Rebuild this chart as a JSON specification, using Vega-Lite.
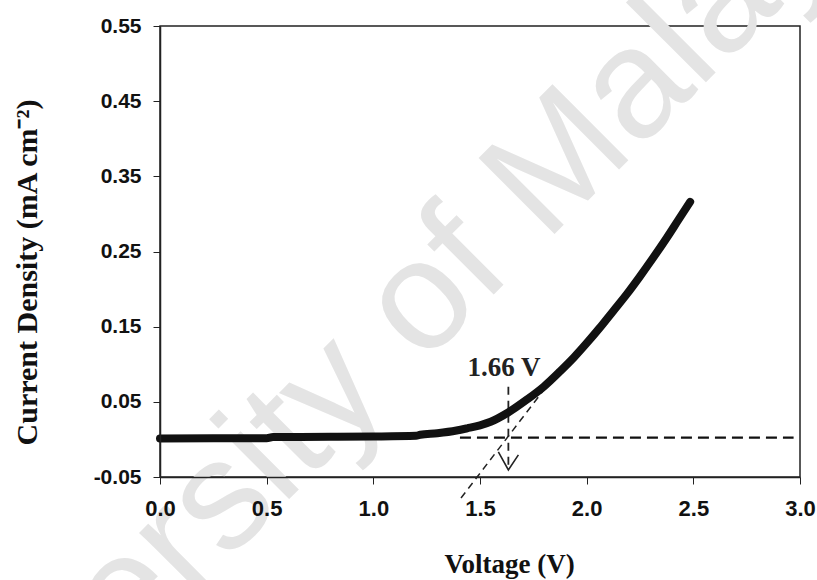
{
  "$schema": "https://vega.github.io/schema/vega-lite/v6.json",
  "width": 640,
  "height": 451,
  "autosize": {"type": "none"},
  "padding": {"left": 160, "top": 26, "right": 17, "bottom": 103},
  "background": "white",
  "config": {
    "view": {"stroke": "#222", "strokeWidth": 1.5},
    "axis": {"grid": false}
  },
  "datasets": {
    "curve": [
      {"v": 0.0, "j": 0.0012},
      {"v": 0.25, "j": 0.0014},
      {"v": 0.5, "j": 0.0016},
      {"v": 0.53, "j": 0.0032},
      {"v": 0.8, "j": 0.0034},
      {"v": 1.0, "j": 0.0038},
      {"v": 1.2, "j": 0.0048},
      {"v": 1.22, "j": 0.0062},
      {"v": 1.3, "j": 0.0082},
      {"v": 1.39, "j": 0.0118},
      {"v": 1.44, "j": 0.0148},
      {"v": 1.5, "j": 0.0188},
      {"v": 1.55, "j": 0.0235},
      {"v": 1.63, "j": 0.0355},
      {"v": 1.72, "j": 0.053},
      {"v": 1.8, "j": 0.0705},
      {"v": 1.875, "j": 0.0905},
      {"v": 1.94, "j": 0.109},
      {"v": 2.0, "j": 0.128},
      {"v": 2.06, "j": 0.148},
      {"v": 2.125, "j": 0.171},
      {"v": 2.19, "j": 0.194},
      {"v": 2.25, "j": 0.217},
      {"v": 2.31, "j": 0.241},
      {"v": 2.375, "j": 0.268},
      {"v": 2.43, "j": 0.292},
      {"v": 2.485, "j": 0.316}
    ],
    "guides": [
      {"kind": "baseline", "v": 1.406, "j": 0.0023, "v2": 2.97, "j2": 0.0023},
      {"kind": "tangent", "v": 1.411, "j": -0.078, "v2": 1.81, "j2": 0.07},
      {"kind": "drop", "v": 1.633, "j": 0.07, "v2": 1.633, "j2": -0.0405}
    ],
    "arrow": [
      {"v": 1.586, "j": -0.0165, "o": 1},
      {"v": 1.633, "j": -0.0407, "o": 2},
      {"v": 1.68, "j": -0.0205, "o": 3}
    ],
    "labels": [
      {"v": 1.613, "j": 0.095, "text": "1.66 V"}
    ],
    "watermark": [
      {"v": 0.99, "j": 0.118, "text": "University of Malaya"}
    ]
  },
  "layer": [
    {
      "data": {"name": "watermark"},
      "mark": {"type": "text", "font": "Liberation Sans", "fontSize": 156, "color": "#e4e4e4", "angle": -45, "align": "center", "baseline": "middle"},
      "encoding": {
        "x": {"field": "v", "type": "quantitative"},
        "y": {"field": "j", "type": "quantitative"},
        "text": {"field": "text"}
      }
    },
    {
      "data": {"name": "guides"},
      "transform": [{"filter": "datum.kind === 'baseline'"}],
      "mark": {"type": "rule", "color": "#111", "strokeWidth": 2.2, "strokeDash": [11, 6]},
      "encoding": {
        "x": {"field": "v", "type": "quantitative"},
        "y": {"field": "j", "type": "quantitative"},
        "x2": {"field": "v2"},
        "y2": {"field": "j2"}
      }
    },
    {
      "data": {"name": "guides"},
      "transform": [{"filter": "datum.kind === 'tangent'"}],
      "mark": {"type": "rule", "color": "#222", "strokeWidth": 1.5, "strokeDash": [7, 5]},
      "encoding": {
        "x": {"field": "v", "type": "quantitative"},
        "y": {"field": "j", "type": "quantitative"},
        "x2": {"field": "v2"},
        "y2": {"field": "j2"}
      }
    },
    {
      "data": {"name": "guides"},
      "transform": [{"filter": "datum.kind === 'drop'"}],
      "mark": {"type": "rule", "color": "#222", "strokeWidth": 1.8, "strokeDash": [8, 6]},
      "encoding": {
        "x": {"field": "v", "type": "quantitative"},
        "y": {"field": "j", "type": "quantitative"},
        "x2": {"field": "v2"},
        "y2": {"field": "j2"}
      }
    },
    {
      "data": {"name": "arrow"},
      "mark": {"type": "line", "color": "#222", "strokeWidth": 1.6},
      "encoding": {
        "x": {"field": "v", "type": "quantitative"},
        "y": {"field": "j", "type": "quantitative"},
        "order": {"field": "o"}
      }
    },
    {
      "data": {"name": "curve"},
      "mark": {"type": "line", "color": "#111", "strokeWidth": 8, "strokeCap": "round", "strokeJoin": "round", "interpolate": "monotone"},
      "encoding": {
        "x": {
          "field": "v", "type": "quantitative",
          "scale": {"domain": [0, 3], "nice": false, "zero": false},
          "axis": {
            "zindex": 2,
            "values": [0, 0.5, 1, 1.5, 2, 2.5, 3],
            "format": ".1f",
            "labelFont": "Liberation Sans", "labelFontWeight": "bold", "labelFontSize": 22, "labelColor": "#111",
            "labelPadding": 14, "tickSize": 7, "tickColor": "#222", "domainColor": "#222", "domainWidth": 1.5,
            "labelFlush": false,
            "title": "Voltage (V)",
            "titleFont": "Liberation Serif", "titleFontWeight": "bold", "titleFontSize": 27, "titleColor": "#111",
            "titleX": 349, "titleY": 95, "titleBaseline": "alphabetic"
          }
        },
        "y": {
          "field": "j", "type": "quantitative",
          "scale": {"domain": [-0.05, 0.55], "nice": false, "zero": false},
          "axis": {
            "zindex": 2,
            "values": [-0.05, 0.05, 0.15, 0.25, 0.35, 0.45, 0.55],
            "format": ".2f",
            "labelExpr": "replace(datum.label, '−', '-')",
            "labelFont": "Liberation Sans", "labelFontWeight": "bold", "labelFontSize": 21, "labelColor": "#111",
            "labelPadding": 12, "tickSize": 7, "tickColor": "#222", "domainColor": "#222", "domainWidth": 1.5,
            "labelFlush": false,
            "title": "Current Density (mA cm⁻²)",
            "titleFont": "Liberation Serif", "titleFontWeight": "bold", "titleFontSize": 30, "titleColor": "#111",
            "titleX": -124, "titleY": 246, "titleBaseline": "alphabetic"
          }
        }
      }
    },
    {
      "data": {"name": "labels"},
      "mark": {"type": "text", "font": "Liberation Serif", "fontWeight": "bold", "fontSize": 27, "color": "#222", "align": "center", "baseline": "middle"},
      "encoding": {
        "x": {"field": "v", "type": "quantitative"},
        "y": {"field": "j", "type": "quantitative"},
        "text": {"field": "text"}
      }
    }
  ]
}
